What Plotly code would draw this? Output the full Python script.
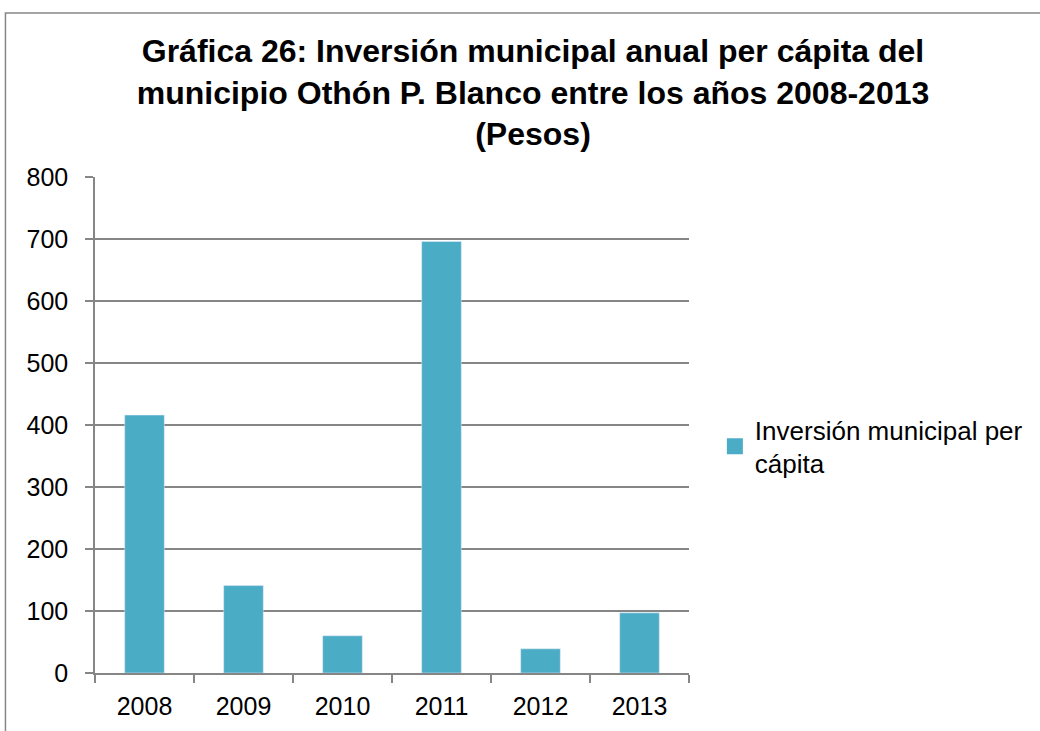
import plotly.graph_objects as go

years = ["2008", "2009", "2010", "2011", "2012", "2013"]
values = [416, 141, 60, 696, 39, 97]
series_name = "Inversión municipal per<br>cápita"
title_text = ("Gráfica 26: Inversión municipal anual per cápita del<br>"
              "municipio Othón P. Blanco entre los años 2008-2013<br>(Pesos)")
bar_color = "#4BACC6"
grid_color = "#868686"

L, R, T, B = 95, 348, 177, 58
W, H = 1040, 731
pw = W - L - R
ph = H - T - B

def px_x(p):
    return (p - L) / pw

def px_y(p):
    return (H - B - p) / ph

fig = go.Figure()
fig.add_trace(go.Bar(x=years, y=values, name=series_name, marker_color=bar_color,
                     width=0.4, showlegend=False))
# legend entry (square swatch)
fig.add_trace(go.Scatter(x=[None], y=[None], mode="markers", name=series_name,
                         marker=dict(symbol="square", size=16, color=bar_color),
                         showlegend=True))

fig.update_layout(
    width=W, height=H,
    margin=dict(l=L, r=R, t=T, b=B),
    paper_bgcolor="white", plot_bgcolor="white",
    font=dict(family="Liberation Sans, Arial, sans-serif", color="black", size=25),
    title=dict(text=title_text, x=533 / W, xanchor="center",
               y=1 - 62 / H, yanchor="top",
               font=dict(size=32, family="Liberation Sans, Arial, sans-serif",
                         color="black", weight="bold")),
    showlegend=True,
    legend=dict(x=px_x(718), y=px_y(406), xanchor="left", yanchor="top",
                font=dict(size=26), itemsizing="trace", tracegroupgap=0),
)
fig.update_xaxes(type="category", showline=True, linecolor=grid_color, linewidth=1.5,
                 ticks="outside", ticklen=8, tickcolor=grid_color, tickwidth=1.5,
                 tickson="boundaries", showgrid=False, tickfont=dict(size=25),
                 ticklabelstandoff=10)
fig.update_yaxes(range=[0, 800], dtick=100, showline=True, linecolor=grid_color, linewidth=1.5,
                 ticks="outside", ticklen=8, tickcolor=grid_color, tickwidth=1.5,
                 showgrid=True, gridcolor=grid_color, gridwidth=1.5, zeroline=False,
                 tickfont=dict(size=25), ticklabelstandoff=12)
fig.add_shape(type="rect", xref="paper", yref="paper",
              x0=px_x(5), x1=px_x(1060), y0=px_y(760), y1=px_y(13),
              line=dict(color=grid_color, width=1.5), fillcolor="rgba(0,0,0,0)", layer="above")
fig.write_html("out.html", config={"displayModeBar": False},
               post_script="document.body.style.margin='0';")
